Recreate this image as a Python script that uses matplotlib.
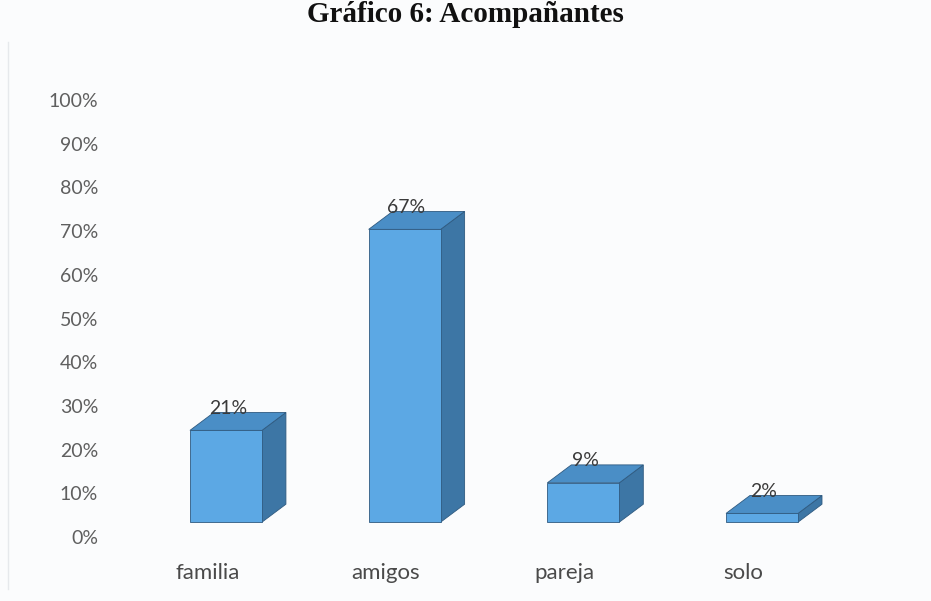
import matplotlib
matplotlib.use("Agg")
import matplotlib.pyplot as plt
import numpy as np

categories = ["familia", "amigos", "pareja", "solo"]
values = [21, 67, 9, 2]
value_labels = ["21%", "67%", "9%", "2%"]
yticks = [0, 10, 20, 30, 40, 50, 60, 70, 80, 90, 100]
ytick_labels = [f"{t}%" for t in yticks]
title = "Gráfico 6: Acompañantes"

W, H = 931, 601
fig = plt.figure(figsize=(W / 100, H / 100), dpi=100)
fig.patch.set_facecolor("#fbfcfd")

ax = fig.add_axes([110 / W, 64 / H, 800 / W, 437 / H])
ax.set_facecolor("none")
ax.set_xlim(-0.649, 3.828)
ax.set_ylim(0, 100)
for s in ax.spines.values():
    s.set_visible(False)

font = ["Lato", "DejaVu Sans"]

# 3D pseudo-geometry (in data units)
width = 0.403
dx = 0.134
dy = 4.1
floor = 3.4

front_c = "#5ca8e4"
top_c = "#4a8ec6"
side_c = "#3d76a5"
edge_c = "#2f5a80"

for i, v in enumerate(values):
    x0 = i - width / 2
    x1 = i + width / 2
    b = floor
    t = floor + v
    ax.fill([x1, x1 + dx, x1 + dx, x1], [b, b + dy, t + dy, t],
            facecolor=side_c, edgecolor=edge_c, linewidth=0.6, zorder=2)
    ax.fill([x0, x1, x1 + dx, x0 + dx], [t, t, t + dy, t + dy],
            facecolor=top_c, edgecolor=edge_c, linewidth=0.6, zorder=3)
    ax.fill([x0, x1, x1, x0], [b, b, t, t],
            facecolor=front_c, edgecolor=edge_c, linewidth=0.6, zorder=4)
    ax.text(i + 0.01, t + dy - 0.3, value_labels[i], ha="center", va="baseline",
            fontsize=14, color="#3a3a3a", family=font, zorder=5)

ax.set_yticks(yticks)
ax.set_yticklabels(ytick_labels, family=font, fontsize=14, color="#5f5f5f")
ax.set_xticks([i - 0.105 for i in range(len(categories))])
ax.set_xticklabels(categories, family=font, fontsize=16, color="#4a4a4a")
ax.tick_params(axis="y", length=0, pad=8.6)
ax.tick_params(axis="x", length=0, pad=19)

fig.text(0.5, 1 - 1 / H, title, ha="center", va="top", fontsize=21,
         fontweight="bold", family=["Liberation Serif", "DejaVu Serif"], color="#111111")

# faint scan frame line
fig.add_artist(plt.Line2D([8 / W, 8 / W], [0.02, 0.93], transform=fig.transFigure,
                          color="#e6e9ec", linewidth=1))

fig.savefig("out.png", dpi=100, facecolor=fig.get_facecolor())
